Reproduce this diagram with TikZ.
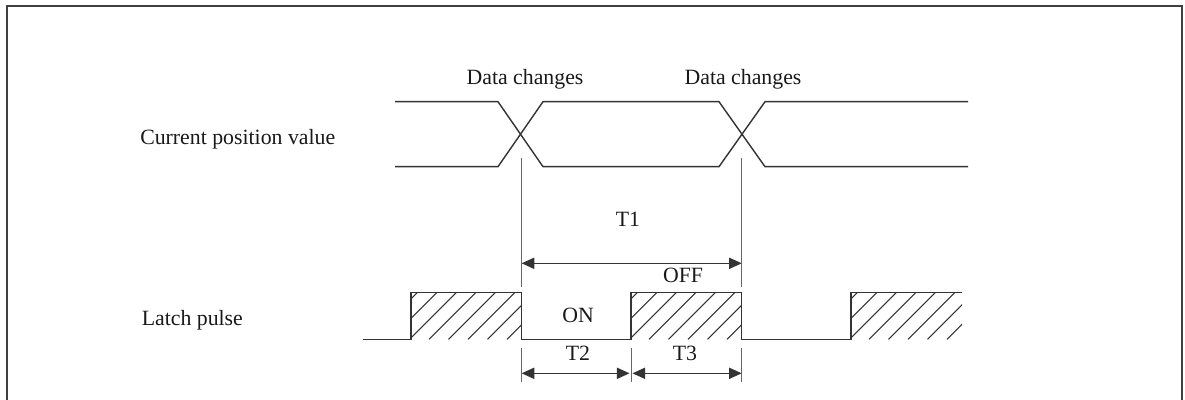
\documentclass[tikz,border=0pt]{standalone}
\usepackage{fontspec}
\setmainfont{Liberation Serif}
\usetikzlibrary{arrows.meta}

\begin{document}
\begin{tikzpicture}[x=0.025cm,y=-0.025cm,
    signal/.style={line width=1pt,draw=black!80,line join=miter},
    marker/.style={line width=0.6pt,draw=black!60},
    dimline/.style={line width=0.8pt,draw=black!80,
        {Triangle[length=9pt,width=8pt]}-{Triangle[length=9pt,width=8pt]}},
    txt/.style={font=\fontsize{15.5}{18}\selectfont,text=black!90,inner sep=0pt}]
    \useasboundingbox (0,0) rectangle (1185,400);

    % Frame
    \draw[line width=1.6pt,draw=black!75] (7,410) -- (7,6) -- (1182,6) -- (1182,410);

    % Edges
    \coordinate (e1) at (521.7,0);
    \coordinate (e2) at (631,0);
    \coordinate (e3) at (741.7,0);

    % Labels
    \node[txt,anchor=base west] (posl) at (140,145) {Current position value};
    \node[txt,anchor=base west] (latl) at (141.5,325) {Latch pulse};
    \node[txt,anchor=base] (dc1) at (525,85) {Data changes};
    \node[txt,anchor=base] (dc2) at (743,85) {Data changes};

    % Current position value
    \draw[signal] (395,101.7) -- (498,101.7) -- (543,166.7) -- (719,166.7)
        -- (765,101.7) -- (968,101.7);
    \draw[signal] (395,166.7) -- (498,166.7) -- (543,101.7) -- (719,101.7)
        -- (765,166.7) -- (968,166.7);

    % Latch pulse
    \foreach \xa/\xb in {411/521.7, 631/741.7, 851/962}{
        \begin{scope}
            \clip (\xa,292.7) rectangle (\xb,339.3);
            \foreach \d in {-60,-40.5,...,130}
                \draw[line width=0.8pt,draw=black!80] (\xa+\d,339.3) -- ++(46.6,-46.6);
        \end{scope}
    }
    \draw[signal] (363,339.3) -- (411,339.3) -- (411,292.7) -- (521.7,292.7)
        -- (521.7,339.3) -- (631,339.3) -- (631,292.7) -- (741.7,292.7)
        -- (741.7,339.3) -- (851,339.3) -- (851,292.7) -- (962,292.7);

    % Markers
    \draw[marker] (e1 |- 0,158) -- (e1 |- 0,287);
    \draw[marker] (e3 |- 0,158) -- (e3 |- 0,287);
    \foreach \e in {e1,e2,e3}
        \draw[marker] (\e |- 0,348) -- (\e |- 0,382);

    % Times
    \coordinate (t1a) at (e1 |- 0,263.3);
    \coordinate (t1b) at (e3 |- 0,263.3);
    \coordinate (t2a) at (e1 |- 0,373.3);
    \coordinate (t2b) at (629.5,373.3);
    \coordinate (t3a) at (632.5,373.3);
    \coordinate (t3b) at (e3 |- 0,373.3);
    \draw[dimline] (t1a) -- (t1b);
    \draw[dimline] (t2a) -- (t2b);
    \draw[dimline] (t3a) -- (t3b);

    \node[txt,anchor=base] (t1) at (628,227) {T1};
    \node[txt,anchor=base] (off) at (683,282.7) {OFF};
    \node[txt,anchor=base] (on) at (578,322.7) {ON};
    \node[txt,anchor=base] (t2) at (578,360) {T2};
    \node[txt,anchor=base] (t3) at (685,360) {T3};
\end{tikzpicture}
\end{document}
